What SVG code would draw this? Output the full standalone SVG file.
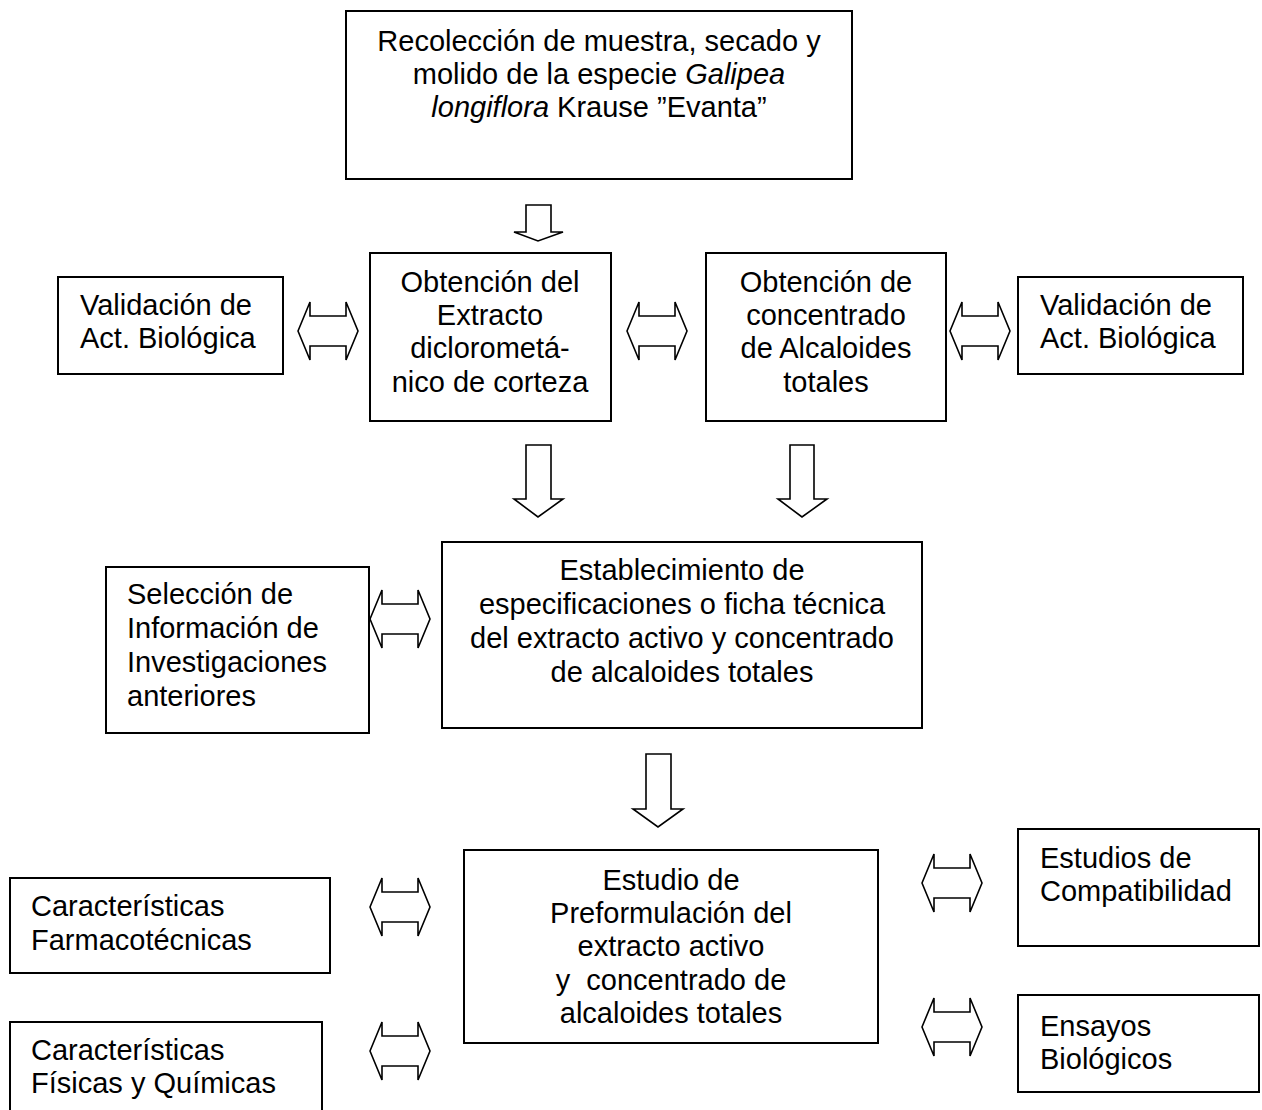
<svg xmlns="http://www.w3.org/2000/svg" width="1262" height="1110" viewBox="0 0 1262 1110">
<style>
.box{fill:#fff;stroke:#000;stroke-width:2}
.arr{fill:#fff;stroke:#000;stroke-width:1.6;stroke-linejoin:miter}
text{font-family:"Liberation Sans",Arial,sans-serif;font-size:29px;fill:#000}
.c{text-anchor:middle}
.i{font-style:italic}
</style>
<defs>
<path id="dbl" class="arr" d="M-30,0 L-18,-29 L-18,-15 L18,-15 L18,-29 L30,0 L18,29 L18,15 L-18,15 L-18,29 Z"/>
</defs>
<rect width="1262" height="1110" fill="#fff"/>

<g id="connectors">
<path class="arr" d="M526,205 L551,205 L551,232 L563,232 L538,241 L514,232 L526,232 Z"/>
<use href="#dbl" x="328" y="331"/>
<use href="#dbl" x="657" y="331"/>
<use href="#dbl" x="980" y="331"/>
<path class="arr" d="M526,445 L551,445 L551,499 L563,499 L538,517 L514,499 L526,499 Z"/>
<path class="arr" d="M790,445 L814,445 L814,499 L827,499 L802,517 L778,499 L790,499 Z"/>
<use href="#dbl" x="400" y="619"/>
<path class="arr" d="M646,754 L671,754 L671,809 L683,809 L658,827 L633,809 L646,809 Z"/>
<use href="#dbl" x="400" y="907"/>
<use href="#dbl" x="400" y="1051"/>
<use href="#dbl" x="952" y="883"/>
<use href="#dbl" x="952" y="1027"/>
</g>

<g id="n1">
<rect class="box" x="346" y="11" width="506" height="168"/>
<text class="c" x="599" y="51">Recolección de muestra, secado y</text>
<text class="c" x="599" y="84">molido de la especie <tspan class="i">Galipea</tspan></text>
<text class="c" x="599" y="117"><tspan class="i">longiflora</tspan> Krause ”Evanta”</text>
</g>

<g id="n2">
<rect class="box" x="58" y="277" width="225" height="97"/>
<text x="80" y="315">Validación de</text>
<text x="80" y="348">Act. Biológica</text>
</g>

<g id="n3">
<rect class="box" x="370" y="253" width="241" height="168"/>
<text class="c" x="490" y="292">Obtención del</text>
<text class="c" x="490" y="325">Extracto</text>
<text class="c" x="490" y="358">diclorometá-</text>
<text class="c" x="490" y="392">nico de corteza</text>
</g>

<g id="n4">
<rect class="box" x="706" y="253" width="240" height="168"/>
<text class="c" x="826" y="292">Obtención de</text>
<text class="c" x="826" y="325">concentrado</text>
<text class="c" x="826" y="358">de Alcaloides</text>
<text class="c" x="826" y="392">totales</text>
</g>

<g id="n5">
<rect class="box" x="1018" y="277" width="225" height="97"/>
<text x="1040" y="315">Validación de</text>
<text x="1040" y="348">Act. Biológica</text>
</g>

<g id="n6">
<rect class="box" x="106" y="567" width="263" height="166"/>
<text x="127" y="604">Selección de</text>
<text x="127" y="638">Información de</text>
<text x="127" y="672">Investigaciones</text>
<text x="127" y="706">anteriores</text>
</g>

<g id="n7">
<rect class="box" x="442" y="542" width="480" height="186"/>
<text class="c" x="682" y="580">Establecimiento de</text>
<text class="c" x="682" y="614">especificaciones o ficha técnica</text>
<text class="c" x="682" y="648">del extracto activo y concentrado</text>
<text class="c" x="682" y="682">de alcaloides totales</text>
</g>

<g id="n8">
<rect class="box" x="464" y="850" width="414" height="193"/>
<text class="c" x="671" y="890">Estudio de</text>
<text class="c" x="671" y="923">Preformulación del</text>
<text class="c" x="671" y="956">extracto activo</text>
<text class="c" x="671" y="990" xml:space="preserve">y  concentrado de</text>
<text class="c" x="671" y="1023">alcaloides totales</text>
</g>

<g id="n9">
<rect class="box" x="10" y="878" width="320" height="95"/>
<text x="31" y="916">Características</text>
<text x="31" y="950">Farmacotécnicas</text>
</g>

<g id="n10">
<rect class="box" x="10" y="1022" width="312" height="100"/>
<text x="31" y="1060">Características</text>
<text x="31" y="1093">Físicas y Químicas</text>
</g>

<g id="n11">
<rect class="box" x="1018" y="829" width="241" height="117"/>
<text x="1040" y="868">Estudios de</text>
<text x="1040" y="901">Compatibilidad</text>
</g>

<g id="n12">
<rect class="box" x="1018" y="995" width="241" height="97"/>
<text x="1040" y="1036">Ensayos</text>
<text x="1040" y="1069">Biológicos</text>
</g>
</svg>
